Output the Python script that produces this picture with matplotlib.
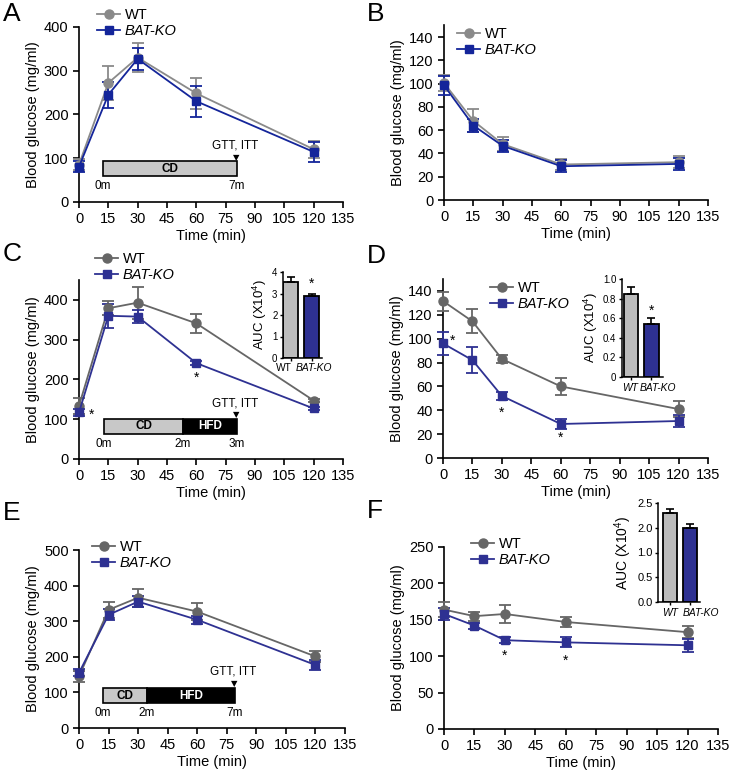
import numpy as np
import matplotlib
matplotlib.use('Agg')
import matplotlib.pyplot as plt
from matplotlib.patches import Rectangle
from matplotlib.lines import Line2D
from matplotlib.transforms import blended_transform_factory

plt.rcParams['font.family'] = ['Liberation Sans', 'DejaVu Sans']
plt.rcParams['mathtext.fontset'] = 'custom'
plt.rcParams['mathtext.rm'] = 'Liberation Sans'
plt.rcParams['mathtext.it'] = 'Liberation Sans:italic'

# ---- data ----
time = [0, 15, 30, 60, 120]
groups = ['WT', 'BAT-KO']

a_wt = [85, 272, 330, 248, 120]
a_wt_err = [12, 38, 33, 35, 19]
a_ko = [80, 245, 327, 230, 114]
a_ko_err = [13, 30, 25, 35, 22]

b_wt = [100.5, 68, 48, 30.5, 32.5]
b_wt_err = [7, 10, 6, 5, 5]
b_ko = [98.5, 64, 46.5, 29, 31]
b_ko_err = [8, 6, 5, 5, 5]

c_wt = [134, 379, 393, 341, 147]
c_wt_err = [20, 17, 40, 24, 4]
c_ko = [117, 360, 358, 241, 127]
c_ko_err = [8, 30, 17, 5, 4]
c_auc = [3.55, 2.9]
c_auc_err = [0.2, 0.08]

d_wt = [131.5, 114.5, 83, 60, 41]
d_wt_err = [8, 10, 3, 7, 7]
d_ko = [96, 82, 52, 28.5, 31]
d_ko_err = [10, 11, 3, 4, 5]
d_auc = [0.85, 0.54]
d_auc_err = [0.07, 0.06]

e_wt = [145, 332, 366, 327, 201]
e_wt_err = [15, 22, 25, 23, 15]
e_ko = [155, 318, 355, 304, 177]
e_ko_err = [10, 15, 15, 12, 13]

f_wt = [164, 155, 158, 147, 133]
f_wt_err = [10, 6, 12, 7, 8]
f_ko = [158, 142, 122, 119, 115]
f_ko_err = [8, 4, 4, 7, 9]
f_auc = [2.3, 1.98]
f_auc_err = [0.08, 0.09]

W, H = 731, 775
fig = plt.figure(figsize=(W / 100, H / 100), dpi=100)


def px(l, r, t, b):
    return [l / W, 1 - b / H, (r - l) / W, (b - t) / H]


GREY1, BLUE1 = '#8a8a8a', '#14259a'
GREY2, BLUE2 = '#666666', '#2e3192'


def panel(rect, wt, wte, ko, koe, ymax, yticks, grey, blue, leg_xy):
    ax = fig.add_axes(px(*rect))
    ax.errorbar(time, wt, yerr=wte, color=grey, marker='o', ms=6.5, lw=1.3,
                capsize=4, elinewidth=1.3, capthick=1.3, clip_on=False, zorder=3)
    ax.errorbar(time, ko, yerr=koe, color=blue, marker='s', ms=6, lw=1.3,
                capsize=4, elinewidth=1.3, capthick=1.3, clip_on=False, zorder=3)
    ax.set_xlim(0, 135)
    ax.set_ylim(0, ymax)
    ax.set_xticks(range(0, 136, 15))
    ax.set_yticks(yticks)
    for s in ['top', 'right']:
        ax.spines[s].set_visible(False)
    for s in ['left', 'bottom']:
        ax.spines[s].set_linewidth(1.2)
    ax.tick_params(labelsize=10.5, width=1.2, length=4)
    ax.set_xlabel('Time (min)', fontsize=10.5, labelpad=2)
    ax.set_ylabel('Blood glucose (mg/ml)', fontsize=10.5, labelpad=3)
    h = [Line2D([], [], color=grey, marker='o', ms=6.5, lw=1.3),
         Line2D([], [], color=blue, marker='s', ms=6, lw=1.3)]
    leg = ax.legend(h, groups, loc='upper left', bbox_to_anchor=(leg_xy[0] / W, 1 - leg_xy[1] / H),
                    bbox_transform=fig.transFigure, frameon=False, fontsize=10.5,
                    handlelength=1.6, handletextpad=0.3, labelspacing=0.15, borderpad=0,
                    borderaxespad=0)
    leg.get_texts()[1].set_style('italic')
    return ax


def timeline(ax, x0, x1, xcd, y0, y1, ylab, ygtt, yarr, labels):
    ax.add_patch(Rectangle((x0, y0), xcd - x0, y1 - y0, facecolor='#c8c8c8',
                           edgecolor='black', lw=1.2, zorder=2, clip_on=False))
    if xcd < x1:
        ax.add_patch(Rectangle((xcd, y0), x1 - xcd, y1 - y0, facecolor='black',
                               edgecolor='black', lw=1.2, zorder=2, clip_on=False))
        ax.text((xcd + x1) / 2, (y0 + y1) / 2, 'HFD', color='white', fontsize=8.5,
                fontweight='bold', ha='center', va='center')
    ax.text((x0 + xcd) / 2, (y0 + y1) / 2, 'CD', color='black', fontsize=8.5,
            fontweight='bold', ha='center', va='center')
    for xv, t in labels:
        ax.text(xv, ylab, t, fontsize=8.5, ha='center', va='center')
    ax.text(x1 - 1, ygtt, 'GTT, ITT', fontsize=8.5, ha='center', va='bottom')
    ax.text(x1 - 0.5, yarr, '\u25BC', fontsize=6, ha='center', va='top', family='DejaVu Sans')


def inset(rect, vals, errs, ymax, yticks, yticklabels, xlim, labx, wt_italic,
          star_y=None, scale=None, tsize=7, lsize=9.5):
    ax = fig.add_axes(px(*rect))
    if scale is not None:
        ax.set_yscale('function', functions=scale)
    ax.bar([0, 1], vals, width=0.72, color=['#bcbcbc', BLUE2], edgecolor='black', lw=1.3)
    ax.errorbar([0, 1], vals, yerr=[[0, 0], errs], fmt='none', ecolor='black',
                elinewidth=1.2, capsize=3, capthick=1.2)
    ax.set_xlim(*xlim)
    ax.set_ylim(0, ymax)
    ax.set_yticks(yticks)
    ax.set_yticklabels(yticklabels)
    ax.set_xticks([0, 1])
    ax.set_xticklabels(['', ''])
    tr = blended_transform_factory(ax.transData, ax.transAxes)
    for i, g in enumerate(groups):
        st = 'italic' if (i == 1 or wt_italic) else 'normal'
        ax.text(labx[i], -0.06, g, transform=tr, fontsize=7.4, style=st,
                ha='center', va='top')
    for s in ['top', 'right']:
        ax.spines[s].set_visible(False)
    for s in ['left', 'bottom']:
        ax.spines[s].set_linewidth(1.1)
    ax.tick_params(labelsize=tsize, width=1, length=2.5, pad=1.5)
    ax.set_ylabel('AUC (X10$^4$)', fontsize=lsize, labelpad=2)
    ax.minorticks_off()
    if star_y is not None:
        ax.text(1, star_y, '*', fontsize=10, ha='center', va='center')
    return ax


# A
axA = panel((79, 343, 27, 201.7), a_wt, a_wt_err, a_ko, a_ko_err, 400, range(0, 401, 100),
            GREY1, BLUE1, (97, 8))
timeline(axA, 12.3, 80.8, 80.8, 59, 93, 36, 114, 112, [(12.3, '0m'), (80.8, '7m')])

# B
axB = panel((444, 708, 25.4, 200), b_wt, b_wt_err, b_ko, b_ko_err, 150, range(0, 141, 20),
            GREY1, BLUE1, (457, 27))

# C
axC = panel((79, 343, 280, 459), c_wt, c_wt_err, c_ko, c_ko_err, 450, range(0, 401, 100),
            GREY2, BLUE2, (95, 252))
timeline(axC, 12.8, 80.8, 53.2, 63, 100.6, 38, 124, 122,
         [(12.8, '0m'), (53.2, '2m'), (80.8, '3m')])
axC.text(6.6, 110, '*', fontsize=10, ha='center', va='center')
axC.text(60, 203, '*', fontsize=10, ha='center', va='center')
inset((283, 322, 272, 358), c_auc, c_auc_err, 4, range(0, 5), [str(v) for v in range(0, 5)],
      (-0.38, 1.5), (-0.33, 1.12), False, star_y=3.45)

# D
axD = panel((443, 708, 279, 458), d_wt, d_wt_err, d_ko, d_ko_err, 150, range(0, 141, 20),
            GREY2, BLUE2, (490, 281))
axD.text(5.1, 98, '*', fontsize=10, ha='center', va='center')
axD.text(30, 38, '*', fontsize=10, ha='center', va='center')
axD.text(60, 17, '*', fontsize=10, ha='center', va='center')
inset((622, 663, 279, 377), d_auc, d_auc_err, 1.0, np.arange(0, 1.01, 0.2),
      ['0', '0.2', '0.4', '0.6', '0.8', '1.0'], (-0.45, 1.57), (-0.05, 1.33), True,
      star_y=0.68)

# E
axE = panel((79, 345, 550, 728), e_wt, e_wt_err, e_ko, e_ko_err, 500, range(0, 501, 100),
            GREY2, BLUE2, (92, 540))
timeline(axE, 12.3, 79.2, 34.5, 70, 112, 42, 141, 138,
         [(12.3, '0m'), (34.5, '2m'), (79.2, '7m')])

# F
axF = panel((444, 718, 547, 729), f_wt, f_wt_err, f_ko, f_ko_err, 250, range(0, 251, 50),
            GREY2, BLUE2, (471, 537))
axF.text(30, 101, '*', fontsize=10, ha='center', va='center')
axF.text(60, 94, '*', fontsize=10, ha='center', va='center')
auc_scale = (lambda v: np.interp(v, [0, 1, 2, 2.5], [0, 1, 1.5, 2.0]),
             lambda v: np.interp(v, [0, 1, 1.5, 2.0], [0, 1, 2, 2.5]))
inset((658, 700, 503, 602), f_auc, f_auc_err, 2.5, [0, 0.5, 1.0, 2.0, 2.5],
      ['0.0', '0.5', '1.0', '2.0', '2.5'], (-0.62, 1.53), (0.0, 1.58), True,
      scale=auc_scale, tsize=8, lsize=10)

# panel letters
for lab, x, y in [('A', 3, 14), ('B', 367, 14), ('C', 3, 254), ('D', 367, 256),
                  ('E', 3, 513), ('F', 367, 511)]:
    fig.text(x / W, 1 - y / H, lab, fontsize=19, ha='left', va='center')

fig.savefig('out.png', dpi=100)
